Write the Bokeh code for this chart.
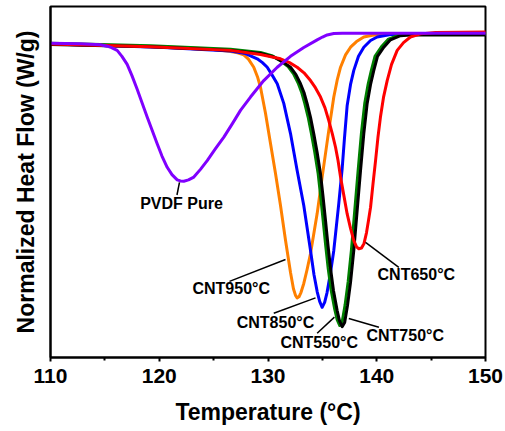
from bokeh.plotting import figure
from bokeh.models import FixedTicker, Range1d
from bokeh.embed import file_html
from bokeh.resources import INLINE
from bokeh.core.properties import value

# ---- data ----
pvdf_t = [110.0, 112.76, 114.60, 115.21, 115.61, 116.13, 116.57, 117.05, 117.49, 117.97, 118.89, 119.81,
          120.25, 120.73, 121.17, 121.65, 121.95, 122.26, 122.69, 123.18, 123.79, 124.41, 125.17, 125.94,
          126.74, 127.47, 128.39, 129.61, 130.85, 132.07, 133.29, 134.52, 135.01, 135.44, 136.05, 136.85, 150.0]
pvdf_y = [8.95, 8.94, 8.91, 8.87, 8.83, 8.75, 8.58, 8.35, 8.03, 7.64, 6.85, 6.09,
          5.74, 5.42, 5.21, 5.06, 5.03, 5.02, 5.06, 5.14, 5.36, 5.61, 5.95, 6.28,
          6.67, 7.04, 7.42, 7.89, 8.27, 8.58, 8.83, 9.05, 9.13, 9.19, 9.23, 9.24, 9.24]

c950_t = [110.0, 120.0, 123.79, 125.5, 126.55, 127.2, 127.77, 128.2, 128.69, 129.03, 129.31, 129.77,
          130.23, 130.69, 131.15, 131.61, 132.07, 132.34, 132.53, 132.68, 132.85, 133.03, 133.29, 133.59,
          133.91, 134.52, 134.98, 135.59, 136.05, 136.36, 136.67, 137.13, 137.59, 138.14, 138.81, 139.61,
          140.34, 150.0]
c950_y = [8.93, 8.85, 8.80, 8.76, 8.72, 8.68, 8.62, 8.50, 8.27, 8.00, 7.70, 6.96,
          6.10, 5.24, 4.33, 3.34, 2.42, 1.96, 1.77, 1.70, 1.73, 1.85, 2.11, 2.50,
          2.96, 4.10, 5.14, 6.47, 7.42, 7.90, 8.27, 8.62, 8.84, 9.00, 9.13, 9.18,
          9.20, 9.20]

c850_t = [110.0, 120.0, 126.55, 127.93, 129.01, 129.49, 129.93, 130.41, 130.85, 131.45, 132.07, 132.68,
          133.29, 133.91, 134.23, 134.52, 134.75, 134.98, 135.21, 135.43, 135.75, 136.05, 136.51, 136.82,
          137.03, 137.28, 137.59, 137.89, 138.32, 138.81, 139.43, 140.04, 141.26, 150.0]
c850_y = [8.93, 8.84, 8.73, 8.66, 8.51, 8.40, 8.27, 8.03, 7.80, 7.24, 6.38, 5.33,
          4.33, 3.05, 2.36, 1.88, 1.60, 1.43, 1.57, 1.85, 2.42, 3.05, 4.39, 5.38,
          6.24, 7.18, 7.78, 8.18, 8.58, 8.84, 9.03, 9.13, 9.20, 9.20]

c550_t = [110.0, 119.20, 126.55, 129.31, 130.35, 131.12, 131.85, 132.35, 132.77, 133.09, 133.38, 133.69,
          133.99, 134.30, 134.61, 134.84, 135.07, 135.30, 135.53, 135.80, 136.14, 136.36, 136.60, 136.83,
          137.09, 137.37, 137.67, 137.98, 138.29, 138.59, 138.90, 139.21, 139.51, 139.85, 140.43, 141.04,
          141.96, 143.0, 150.0]
c550_y = [8.95, 8.88, 8.78, 8.69, 8.60, 8.46, 8.29, 8.08, 7.82, 7.56, 7.24, 6.85,
          6.38, 5.85, 5.24, 4.60, 3.91, 3.20, 2.55, 1.93, 1.37, 1.08, 0.91, 1.03,
          1.50, 2.16, 3.06, 4.20, 5.34, 6.39, 7.25, 7.79, 8.19, 8.59, 8.85, 9.06,
          9.18, 9.21, 9.21]

c750_t = [110.0, 119.20, 126.55, 129.31, 130.53, 131.33, 132.07, 132.57, 132.99, 133.31, 133.60, 133.91,
          134.21, 134.52, 134.83, 135.06, 135.29, 135.52, 135.75, 136.02, 136.36, 136.57, 136.82, 137.05,
          137.31, 137.59, 137.89, 138.20, 138.51, 138.81, 139.12, 139.43, 139.73, 140.07, 140.65, 141.26,
          142.18, 143.10, 150.0]
c750_y = [8.92, 8.85, 8.75, 8.66, 8.56, 8.43, 8.27, 8.06, 7.80, 7.55, 7.23, 6.84,
          6.37, 5.84, 5.23, 4.59, 3.90, 3.19, 2.54, 1.91, 1.34, 1.05, 0.88, 1.00,
          1.48, 2.14, 3.05, 4.19, 5.33, 6.38, 7.24, 7.78, 8.18, 8.58, 8.84, 9.05,
          9.17, 9.19, 9.19]

c650_t = [110.0, 119.20, 126.55, 129.31, 131.15, 131.98, 132.68, 133.31, 133.91, 134.37, 134.83, 135.24,
          135.59, 135.91, 136.21, 136.44, 136.67, 136.99, 137.28, 137.59, 137.89, 138.14, 138.35, 138.60,
          138.83, 139.06, 139.24, 139.43, 139.66, 139.89, 140.11, 140.34, 140.62, 140.96, 141.36, 141.88,
          142.46, 143.10, 144.02, 145.40, 150.0]
c650_y = [8.93, 8.85, 8.75, 8.63, 8.51, 8.40, 8.27, 8.11, 7.89, 7.68, 7.42, 7.11,
          6.75, 6.38, 5.99, 5.61, 5.14, 4.59, 4.09, 3.68, 3.33, 3.15, 3.10, 3.12,
          3.25, 3.56, 3.90, 4.28, 4.96, 5.61, 6.27, 6.85, 7.41, 7.89, 8.35, 8.75,
          8.97, 9.13, 9.22, 9.26, 9.27]

series_names = ["CNT950°C", "CNT850°C", "CNT550°C", "CNT750°C", "CNT650°C", "PVDF Pure"]
x_ticks = [110, 120, 130, 140, 150]
x_minor = [115, 125, 135, 145]

# annotation anchors (label centre, leader line start/end)
label_pos = {
    "PVDF Pure": (122.05, 4.39, (121.86, 4.99), (121.63, 4.63)),
    "CNT950°C": (126.62, 1.97, (131.61, 2.79), (126.46, 2.17)),
    "CNT850°C": (130.69, 1.01, (134.37, 1.70), (130.53, 1.26)),
    "CNT550°C": (134.71, 0.43, (136.11, 1.15), (134.52, 0.69)),
    "CNT750°C": (142.62, 0.63, (137.43, 1.11), (140.20, 0.86)),
    "CNT650°C": (143.64, 2.36, (138.97, 3.28), (142.03, 2.57)),
}

FONT = "Liberation Sans"

p = figure(width=505, height=431, output_backend="svg", toolbar_location=None,
           x_range=Range1d(110, 150), y_range=Range1d(0, 10),
           min_border_left=50, min_border_right=20, min_border_top=6, min_border_bottom=74)
p.grid.visible = False
p.background_fill_color = "white"
p.border_fill_color = "white"
p.outline_line_color = "black"
p.outline_line_width = 2

curves = [
    (c950_t, c950_y, "#FF8000"),
    (c850_t, c850_y, "#0000FF"),
    (c550_t, c550_y, "#007F00"),
    (c750_t, c750_y, "#000000"),
    (c650_t, c650_y, "#FF0000"),
    (pvdf_t, pvdf_y, "#8000FF"),
]
for t, y, c in curves:
    p.line(t, y, line_color=c, line_width=3, line_join="round", line_cap="round")

# leader lines and labels
for name in series_names:
    lx, ly, (x0, y0), (x1, y1) = label_pos[name]
    p.segment(x0=[x0], y0=[y0], x1=[x1], y1=[y1], line_color="black", line_width=1.5)
    p.text(x=[lx], y=[ly], text=[name], text_align="center", text_baseline="middle",
           text_font=value(FONT), text_font_style="bold", text_font_size="16px", text_color="black")

# x axis
xa = p.xaxis[0]
xa.ticker = FixedTicker(ticks=x_ticks, minor_ticks=x_minor)
xa.axis_line_width = 2
xa.major_tick_line_width = 2
xa.minor_tick_line_width = 2
xa.major_tick_out = 4
xa.major_tick_in = 0
xa.minor_tick_out = 3
xa.minor_tick_in = 0
xa.major_label_text_font = FONT
xa.major_label_text_font_style = "bold"
xa.major_label_text_font_size = "21px"
xa.major_label_text_color = "black"
xa.major_label_standoff = 7
xa.axis_label = "Temperature (°C)"
xa.axis_label_text_font = FONT
xa.axis_label_text_font_style = "bold"
xa.axis_label_text_font_size = "23px"
xa.axis_label_text_color = "black"
xa.axis_label_standoff = 13

# y axis: no ticks, only the title
ya = p.yaxis[0]
ya.ticker = FixedTicker(ticks=[])
ya.axis_line_width = 2
ya.major_tick_line_color = None
ya.minor_tick_line_color = None
ya.major_label_text_font_size = "0px"
ya.axis_label = "Normalized Heat Flow (W/g)"
ya.axis_label_text_font = FONT
ya.axis_label_text_font_style = "bold"
ya.axis_label_text_font_size = "23px"
ya.axis_label_text_color = "black"
ya.axis_label_standoff = 12

open("out.html", "w").write(file_html(p, INLINE))
